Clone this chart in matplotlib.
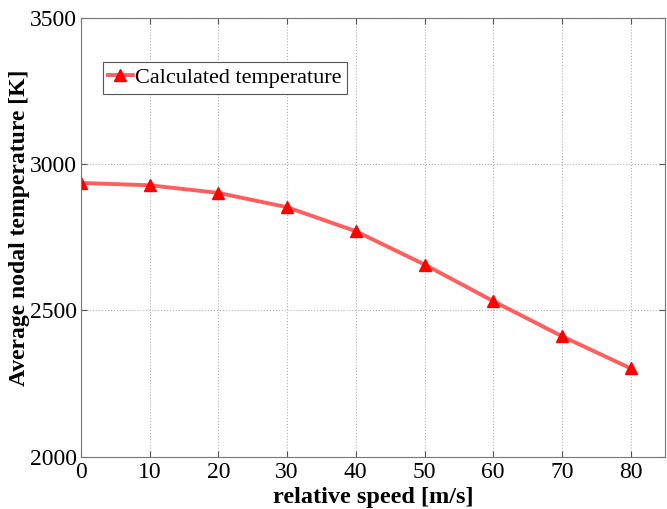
import matplotlib
matplotlib.use('Agg')
import matplotlib.pyplot as plt

# data
speed = [0, 10, 20, 30, 40, 50, 60, 70, 80]
temperature = [2936, 2928, 2902, 2853, 2771, 2657, 2532, 2412, 2302]

plt.rcParams['font.family'] = ['Liberation Serif', 'DejaVu Serif']

fig = plt.figure(figsize=(6.67, 5.09), dpi=100)
ax = fig.add_axes([0.1214, 0.1028, 0.8756, 0.8618])

ax.plot(speed, temperature, color='#ff5e5e', linewidth=2.8,
        marker='^', markersize=8.5, markerfacecolor='red', markeredgecolor='red',
        label='Calculated temperature')

ax.set_xlim(0, 85)
ax.set_ylim(2000, 3500)
ax.set_xticks(range(0, 81, 10))
ax.set_yticks([2000, 2500, 3000, 3500])
ax.tick_params(direction='in', top=True, right=True, labelsize=17, length=4,
               colors='#555555', labelcolor='black')
ax.tick_params(axis='x', pad=4)
ax.tick_params(axis='y', pad=3)
for s in ax.spines.values():
    s.set_color('#777777')

ax.grid(True, linestyle=':', color='#b0b0b0', linewidth=0.8)

ax.set_xlabel('relative speed [m/s]', fontsize=17.5, fontweight='bold', labelpad=3)
ax.set_ylabel('Average nodal temperature [K]', fontsize=17, fontweight='bold')
ax.yaxis.set_label_coords(-0.088, 0.522)

leg = ax.legend(loc='upper left', bbox_to_anchor=(0.037, 0.9), borderaxespad=0,
                fontsize=16, fancybox=False, edgecolor='#555555', framealpha=1,
                handlelength=1.1, handletextpad=0.1, borderpad=0.25)
leg.get_frame().set_linewidth(0.8)

fig.savefig('out.png', dpi=100)
